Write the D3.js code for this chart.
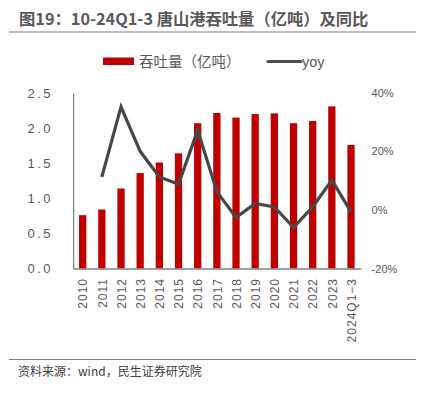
<!DOCTYPE html>
<html><head><meta charset="utf-8">
<script src="https://cdn.jsdelivr.net/npm/d3@7"></script>
<style>body{margin:0;background:#fff;}svg{display:block;font-family:"Noto Sans CJK SC","Liberation Sans",sans-serif;}</style>
</head><body><svg id="c" width="426" height="393"></svg>
<script>
const categories = ["2010","2011","2012","2013","2014","2015","2016","2017","2018","2019","2020","2021","2022","2023","2024Q1\u22123"];
const throughput = [0.76,0.84,1.14,1.36,1.51,1.64,2.07,2.215,2.15,2.20,2.21,2.07,2.10,2.31,1.76];
const yoy = [null,11.3,35.1,20.0,11.3,8.8,27.2,6.3,-2.5,2.3,1.1,-5.9,1.1,10.2,-0.6];
const leftTicks = [0,0.5,1.0,1.5,2.0,2.5];
const rightTicks = [-20,0,20,40];
const titleText = "图19：10-24Q1-3 唐山港吞吐量（亿吨）及同比";
const sourceText = "资料来源：wind，民生证券研究院";
const legendBar = "吞吐量（亿吨）";
const legendLine = "yoy";

const svg = d3.select("#c");
const x = d3.scaleBand().domain(categories).range([73.1,360.6]).paddingInner(0.62).paddingOuter(0.31);
const yL = d3.scaleLinear().domain([0,2.5]).range([268.5,93]);
const yR = d3.scaleLinear().domain([-20,40]).range([269,92.5]);

// title
svg.append("text").attr("x",19).attr("y",24.5).attr("font-size",16.3).attr("font-weight","bold")
  .attr("fill","#595959").text(titleText);
svg.append("line").attr("x1",9).attr("x2",416).attr("y1",32).attr("y2",32).attr("stroke","#7f7f7f").attr("stroke-width",1.2);

// legend
svg.append("rect").attr("x",103).attr("y",57.5).attr("width",31).attr("height",7.5).attr("fill","#C00000");
svg.append("text").attr("x",139).attr("y",66.5).attr("font-size",14.5).attr("fill","#595959").text(legendBar);
svg.append("line").attr("x1",268).attr("x2",301).attr("y1",61.5).attr("y2",61.5).attr("stroke","#505050").attr("stroke-width",3.2).attr("stroke-linecap","round");
svg.append("text").attr("x",302).attr("y",66.5).attr("font-size",14.5).attr("fill","#595959").attr("font-family","Liberation Sans, Arial").text(legendLine);

// bars
svg.selectAll("rect.bar").data(categories).enter().append("rect").attr("class","bar")
  .attr("x",d=>x(d)).attr("width",x.bandwidth())
  .attr("y",(d,i)=>yL(throughput[i])).attr("height",(d,i)=>yL(0)-yL(throughput[i]))
  .attr("fill","#C00000");

// axes
const axL = svg.append("g").attr("transform","translate(73.1,0)")
  .call(d3.axisLeft(yL).tickValues(leftTicks).tickFormat(d3.format(".1f")).tickSize(0).tickPadding(20));
axL.select(".domain").attr("stroke","#7f7f7f").attr("stroke-width",1.3);
axL.selectAll("text").attr("font-size",13).attr("fill","#595959").attr("font-family","Liberation Sans, Arial")
  .attr("letter-spacing","2.5px").text(d=>d3.format(".1f")(d));

const axB = svg.append("g").attr("transform","translate(0,268.5)")
  .call(d3.axisBottom(x).tickSize(0).tickSizeOuter(0).tickPadding(0));
axB.select(".domain").attr("stroke","#7f7f7f").attr("stroke-width",1.3);
axB.selectAll("text").attr("font-size",12).attr("fill","#595959").attr("font-family","Liberation Sans, Arial")
  .attr("letter-spacing","1px")
  .attr("transform","rotate(-90)").attr("dy","0.4em").attr("y",0);
axB.selectAll("text").attr("text-anchor","start").attr("x",function(){return -9.5 - this.getComputedTextLength();});

const axR = svg.append("g").attr("transform","translate(360.6,0)")
  .call(d3.axisRight(yR).tickValues(rightTicks).tickFormat(d=>d+"%").tickSize(0).tickPadding(11));
axR.select(".domain").remove();
axR.selectAll("text").attr("font-size",11).attr("fill","#595959").attr("font-family","Liberation Sans, Arial");

// line
const line = d3.line().defined(d=>d.v!==null).x(d=>x(d.c)+x.bandwidth()/2).y(d=>yR(d.v));
svg.append("path").datum(categories.map((c,i)=>({c,v:yoy[i]})))
  .attr("d",line).attr("fill","none").attr("stroke","#474747").attr("stroke-width",3.2).attr("stroke-linejoin","miter");

// footer
svg.append("line").attr("x1",9).attr("x2",416).attr("y1",359.5).attr("y2",359.5).attr("stroke","#7f7f7f").attr("stroke-width",1.2);
svg.append("text").attr("x",18).attr("y",376).attr("font-size",12).attr("fill","#404040").text(sourceText);
</script></body></html>
